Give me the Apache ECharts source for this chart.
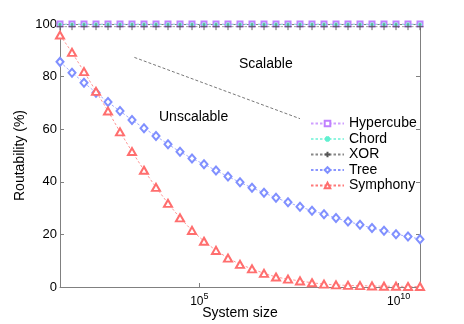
<!DOCTYPE html>
<html><head><meta charset="utf-8">
<script src="https://cdn.jsdelivr.net/npm/echarts@6/dist/echarts.min.js"></script>
<style>html,body{margin:0;padding:0;background:#fff}#c{width:464px;height:324px}</style>
</head><body><div id="c"></div>
<script>
// System size = 2^bits
const bits = [5,6,7,8,9,10,11,12,13,14,15,16,17,18,19,20,21,22,23,24,25,26,27,28,29,30,31,32,33,34,35];
const sizes = bits.map(b => Math.pow(2, b));
const hypercube = [100,100,100,100,100,100,100,100,100,100,100,100,100,100,100,100,100,100,100,100,100,100,100,100,100,100,100,100,100,100,100];
const chord = [99.8,99.8,99.8,99.8,99.8,99.8,99.8,99.8,99.8,99.8,99.8,99.8,99.8,99.8,99.8,99.8,99.8,99.8,99.8,99.8,99.8,99.8,99.8,99.8,99.8,99.8,99.8,99.8,99.8,99.8,99.8];
const xor = [99,99,99,99,99,99,99,99,99,99,99,99,99,99,99,99,99,99,99,99,99,99,99,99,99,99,99,99,99,99,99];
const tree = [85.6,81.5,77.7,73.9,70.3,66.9,63.5,60.4,57.4,54.3,51.4,48.9,46.7,44.3,42.0,39.8,37.7,35.8,33.9,32.2,30.5,29.0,27.7,26.2,24.9,23.7,22.4,21.4,20.1,19.2,18.2];
const symphony = [95.8,89.2,81.9,74.4,66.9,59.0,51.5,44.4,37.9,31.8,26.3,21.5,17.4,13.9,11.0,8.6,6.9,5.2,3.8,3.0,2.3,1.6,1.1,0.8,0.6,0.5,0.4,0.3,0.3,0.2,0.2];
const seriesNames = ['Hypercube','Chord','XOR','Tree','Symphony'];
const xTickValues = [1e5, 1e10];
const boundaryX = [Math.pow(2,11.2), Math.pow(2,25)];
const boundaryY = [87.3, 64];
const yTicks = [0,20,40,60,80,100];
const annotations = ['Scalable','Unscalable'];

const font = 'Liberation Sans, Arial, Helvetica, sans-serif';
const pair = (xs, ys) => xs.map((x,i)=>[x, ys[i]]);
const dash = [2.5,2];
const plusPath = 'path://M0,-5L0,5M-5,0L5,0';
const starPath = 'path://M0,-5L0,5M-5,0L5,0M-3.5,-3.5L3.5,3.5M-3.5,3.5L3.5,-3.5';
const isDecade = v => Math.abs(Math.log10(v) - Math.round(Math.log10(v))) < 1e-6;

const chart = echarts.init(document.getElementById('c'), null, {renderer:'canvas'});
const xCommon = {
  type:'log', logBase:10, min: sizes[0], max: sizes[sizes.length-1],
  axisLine:{show:true, onZero:false, lineStyle:{color:'#808080', width:1}},
  axisTick:{show:true, inside:true, length:4, customValues:xTickValues, lineStyle:{color:'#808080'}},
  minorTick:{show:false}, splitLine:{show:false}
};
const yCommon = {
  type:'value', min:0, max:100, interval:20,
  axisLine:{show:true, onZero:false, lineStyle:{color:'#808080', width:1}},
  axisTick:{show:true, inside:true, length:4, lineStyle:{color:'#808080'}},
  splitLine:{show:false}
};
chart.setOption({
  animation:false,
  backgroundColor:'#fff',
  grid:{left:60, right:44, top:24, bottom:37, containLabel:false, outerBoundsMode:'none'},
  xAxis:[
    Object.assign({}, xCommon, {
      position:'bottom', name:'System size', nameLocation:'middle', nameGap:19, nameMoveOverlap:false,
      nameTextStyle:{fontFamily:font, fontSize:14, color:'#000'},
      axisLabel:{show:true, margin:5, color:'#000', fontFamily:font, customValues:xTickValues,
        formatter: v => isDecade(v) ? '{b|10}{s|' + Math.round(Math.log10(v)) + '}' : '',
        rich:{b:{fontSize:12, fontFamily:font, color:'#000', verticalAlign:'bottom', padding:[0,0,0,0]}, s:{fontSize:9, fontFamily:font, color:'#000', padding:[0,0,7,0], verticalAlign:'bottom'}}}
    }),
    Object.assign({}, xCommon, {position:'top', axisLabel:{show:false}})
  ],
  yAxis:[
    Object.assign({}, yCommon, {
      position:'left', name:'Routability (%)', nameLocation:'middle', nameGap:33, nameMoveOverlap:false,
      nameTextStyle:{fontFamily:font, fontSize:14, color:'#000'},
      axisLabel:{margin:3, color:'#000', fontFamily:font, fontSize:13, formatter: v => yTicks.includes(v) ? String(v) : ''}
    }),
    Object.assign({}, yCommon, {position:'right', axisLabel:{show:false}})
  ],
  legend:{
    orient:'vertical', left:305, top:111, itemWidth:33, itemHeight:7, itemGap:0.5,
    textStyle:{fontFamily:font, fontSize:14, color:'#000', lineHeight:15},
    data:seriesNames
  },
  graphic:[
    {type:'text', left:239, top:57, style:{text:annotations[0], font:'14px '+font, fill:'#000'}},
    {type:'text', left:159, top:110, style:{text:annotations[1], font:'14px '+font, fill:'#000'}}
  ],
  series:[
    {name:'boundary', type:'line', data:pair(boundaryX, boundaryY), symbol:'none', silent:true,
     lineStyle:{color:'#555', width:0.8, type:[3,2]}, z:1},
    {name:seriesNames[0], type:'line', data:pair(sizes, hypercube), symbol:'emptyRect', symbolSize:5,
     itemStyle:{color:'#c080ff', borderColor:'#c080ff', borderWidth:1}, lineStyle:{color:'#d0a0ff', width:0.8, type:dash}, clip:false},
    {name:seriesNames[1], type:'line', data:pair(sizes, chord), symbol:starPath, symbolSize:5,
     itemStyle:{color:'#60f0d0', borderColor:'#60f0d0', borderWidth:1}, lineStyle:{color:'#90f5e0', width:0.8, type:dash}, clip:false},
    {name:seriesNames[2], type:'line', data:pair(sizes, xor), symbol:plusPath, symbolSize:7,
     itemStyle:{color:'#666', borderColor:'#555', borderWidth:0.9}, lineStyle:{color:'#888', width:0.8, type:dash}, clip:false},
    {name:seriesNames[3], type:'line', data:pair(sizes, tree), symbol:'emptyDiamond', symbolSize:[7,8],
     itemStyle:{color:'#8090ff', borderColor:'#8090ff', borderWidth:0.8}, lineStyle:{color:'#8a96ff', width:0.8, type:dash}, clip:false},
    {name:seriesNames[4], type:'line', data:pair(sizes, symphony), symbol:'emptyTriangle', symbolSize:[8,7],
     itemStyle:{color:'#ff6e6e', borderColor:'#ff6e6e', borderWidth:0.8}, lineStyle:{color:'#ff7a7a', width:0.8, type:dash}, clip:false}
  ]
});
</script></body></html>
